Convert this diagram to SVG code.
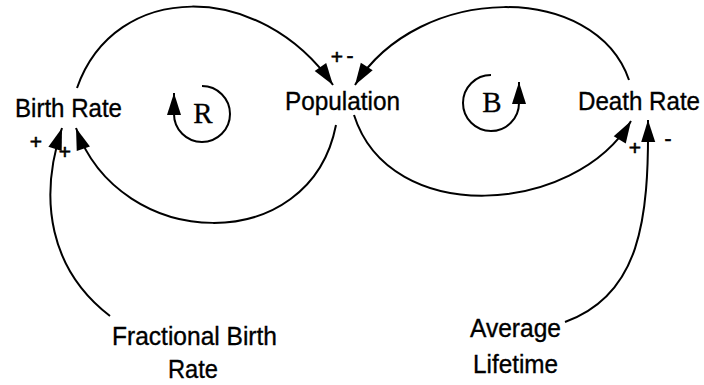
<svg xmlns="http://www.w3.org/2000/svg" width="704" height="385" viewBox="0 0 704 385">
<style>
.lbl{font-family:"Liberation Sans",Arial,sans-serif;font-size:25px;fill:#000;stroke:#000;stroke-width:0.35}
.sgn{font-family:"Liberation Sans",Arial,sans-serif;font-size:21px;fill:#000;stroke:#000;stroke-width:0.6;text-anchor:middle}
.loop{font-family:"Liberation Serif","Times New Roman",serif;font-size:29px;fill:#000;stroke:#000;stroke-width:0.3;text-anchor:middle}
.link{fill:none;stroke:#000;stroke-width:2;marker-end:url(#ah)}
</style>
<defs>
<marker id="ah" markerUnits="userSpaceOnUse" viewBox="-23 -8 25 16" refX="0" refY="0" markerWidth="25" markerHeight="16" orient="auto">
<path d="M0,0 L-22,-7 L-22,7 Z" fill="#000"/>
</marker>
</defs>
<rect width="704" height="385" fill="#fff"/>
<g id="connectors">
<path class="link" d="M77,88 C115,-20 260,-20 333,85"/>
<path class="link" d="M336,125 C310,258 120,252 76,128"/>
<path class="link" d="M629,80 C595,-18 420,-18 355,85"/>
<path class="link" d="M354,115 C390,228 575,215 631,121"/>
<path class="link" d="M110,316 C50,270 38,200 62,128"/>
<path class="link" d="M565,322 C640,295 649,220 648,120"/>
</g>
<g id="node-birth-rate"><text class="lbl" x="15" y="117" textLength="107" lengthAdjust="spacingAndGlyphs">Birth Rate</text></g>
<g id="node-population"><text class="lbl" x="285" y="110" textLength="115" lengthAdjust="spacingAndGlyphs">Population</text></g>
<g id="node-death-rate"><text class="lbl" x="578" y="110" textLength="122" lengthAdjust="spacingAndGlyphs">Death Rate</text></g>
<g id="node-fractional-birth-rate"><text class="lbl" x="112" y="345" textLength="165" lengthAdjust="spacingAndGlyphs">Fractional Birth</text><text class="lbl" x="168" y="378" textLength="50" lengthAdjust="spacingAndGlyphs">Rate</text></g>
<g id="node-average-lifetime"><text class="lbl" x="470" y="337" textLength="91" lengthAdjust="spacingAndGlyphs">Average</text><text class="lbl" x="473" y="373" textLength="85" lengthAdjust="spacingAndGlyphs">Lifetime</text></g>
<g id="loop-r">
<path class="link" d="M202,86 A28,28 0 1 1 174,114 L174,93"/>
<text class="loop" x="203" y="123">R</text>
</g>
<g id="loop-b">
<path class="link" d="M491,75 A28,28 0 1 0 519,103 L519,82"/>
<text class="loop" x="492" y="112">B</text>
</g>
<g id="polarities">
<text class="sgn" x="337" y="64">+</text>
<text class="sgn" x="350" y="63">-</text>
<text class="sgn" x="36" y="149">+</text>
<text class="sgn" x="65" y="159">+</text>
<text class="sgn" x="635" y="155">+</text>
<text class="sgn" x="668" y="146">-</text>
</g>
</svg>
